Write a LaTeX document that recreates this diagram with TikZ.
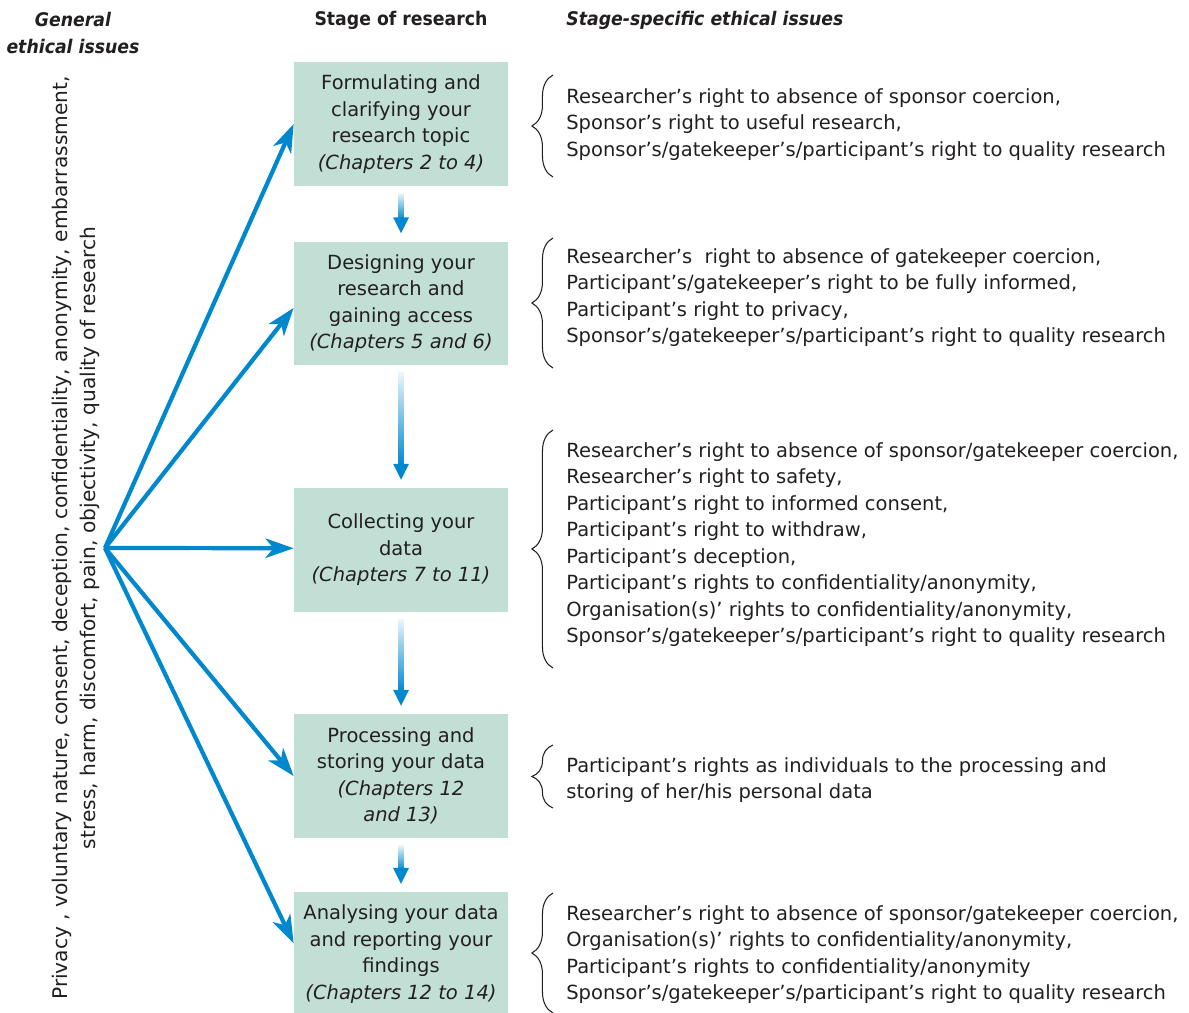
\documentclass[tikz,border=0pt]{standalone}
\usepackage{fontspec}
\setmainfont{DejaVu Sans}
\newfontfamily\headfont{DejaVu Sans}[FakeStretch=0.92]
\usetikzlibrary{arrows.meta}
\usetikzlibrary{decorations.pathreplacing}
\definecolor{flowblue}{RGB}{0,136,206}
\definecolor{stagegreen}{RGB}{194,223,213}
\definecolor{inkgray}{RGB}{35,31,32}
\newcommand\bodyfont{\fontsize{11.1}{15.1}\selectfont}
% gradient arrow between two stages
\newcommand\stagearrow[2]{%
  \shade[top color=flowblue!8, bottom color=flowblue] ([xshift=-1.6pt,yshift=-4pt]#1.south) rectangle ([xshift=1.6pt,yshift=12.5pt]#2.north);
  \fill[flowblue] ([xshift=-4.5pt,yshift=13.5pt]#2.north) -- ([xshift=4.5pt,yshift=13.5pt]#2.north) -- ([yshift=4.5pt]#2.north) -- cycle;
}
\tikzset{
  stage/.style={fill=stagegreen, minimum width=4.28cm, minimum height=2.48cm, align=center, inner sep=0pt, text=inkgray, font=\bodyfont},
  issues/.style={anchor=west, align=left, inner sep=0pt, text=inkgray, font=\bodyfont},
  heading/.style={inner sep=0pt, text=inkgray, font=\headfont\fontsize{10.7}{15.1}\selectfont\bfseries},
  generalarrow/.style={flowblue, line width=2.4pt, -{Stealth[length=16pt,width=11pt,inset=4.5pt]}},
  issuebrace/.style={decorate, decoration={brace, amplitude=12pt}, line width=0.6pt, inkgray},
}

\begin{document}
\begin{tikzpicture}[x=0.02cm, y=-0.02cm]
\useasboundingbox (0,0) rectangle (1189,1013);

\node[heading, align=center] (generalhead) at (73,33) {\itshape General\\\itshape ethical issues};
\node[heading] (stagehead) at (401,20) {Stage of research};
\node[heading, anchor=west] (specifichead) at (566,20) {\itshape Stage-specific ethical issues};

\node[rotate=90, align=center, inner sep=0pt, text=inkgray, font=\fontsize{11.5}{16}\selectfont] (general) at (76,538)
  {Privacy , voluntary nature, consent, deception, confidentiality, anonymity, embarrassment,\\
   stress, harm, discomfort, pain, objectivity, quality of research};

\node[stage] (topic) at (401,124) {Formulating and\\clarifying your\\research topic\\\textit{(Chapters 2 to 4)}};
\node[stage] (design) at (401,303.5) {Designing your\\research and\\gaining access\\\textit{(Chapters 5 and 6)}};
\node[stage] (collect) at (401,550) {Collecting your\\data\\\textit{(Chapters 7 to 11)}};
\node[stage] (process) at (401,776) {Processing and\\storing your data\\\textit{(Chapters 12}\\\textit{and 13)}};
\node[stage] (analyse) at (401,954) {Analysing your data\\and reporting your\\findings\\\textit{(Chapters 12 to 14)}};

\stagearrow{topic}{design}
\stagearrow{design}{collect}
\stagearrow{collect}{process}
\stagearrow{process}{analyse}

\coordinate (hub) at (105,548);
\draw[generalarrow] (hub) -- (topic.west);
\draw[generalarrow] (hub) -- ([yshift=-2.5pt]design.west);
\draw[generalarrow] (hub) -- ([yshift=1pt]collect.west);
\draw[generalarrow] (hub) -- (process.west);
\draw[generalarrow] (hub) -- ([yshift=6pt]analyse.west);

\node[issues] (topicissues) at (566,124.5) {Researcher’s right to absence of sponsor coercion,\\Sponsor’s right to useful research,\\Sponsor’s/gatekeeper’s/participant’s right to quality research};
\node[issues] (designissues) at (566,297.5) {Researcher’s\ \ right to absence of gatekeeper coercion,\\Participant’s/gatekeeper’s right to be fully informed,\\Participant’s right to privacy,\\Sponsor’s/gatekeeper’s/participant’s right to quality research};
\node[issues] (collectissues) at (566,544.5) {Researcher’s right to absence of sponsor/gatekeeper coercion,\\Researcher’s right to safety,\\Participant’s right to informed consent,\\Participant’s right to withdraw,\\Participant’s deception,\\Participant’s rights to confidentiality/anonymity,\\Organisation(s)’ rights to confidentiality/anonymity,\\Sponsor’s/gatekeeper’s/participant’s right to quality research};
\node[issues] (processissues) at (566,780) {Participant’s rights as individuals to the processing and\\storing of her/his personal data};
\node[issues] (analyseissues) at (566,954.5) {Researcher’s right to absence of sponsor/gatekeeper coercion,\\Organisation(s)’ rights to confidentiality/anonymity,\\Participant’s rights to confidentiality/anonymity\\Sponsor’s/gatekeeper’s/participant’s right to quality research};

\draw[issuebrace] (553,177) -- (553,75);
\draw[issuebrace] (553,368) -- (553,238);
\draw[issuebrace] (553,668) -- (553,430);
\draw[issuebrace] (553,808) -- (553,745);
\draw[issuebrace] (553,1013) -- (553,893);
\end{tikzpicture}
\end{document}
